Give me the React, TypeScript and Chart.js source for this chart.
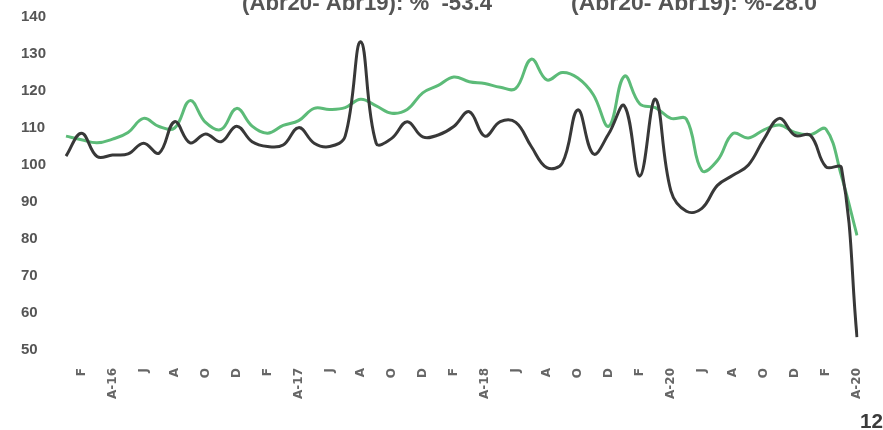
import React, { useEffect, useRef } from 'react';
import { Chart, registerables } from 'chart.js';

Chart.register(...registerables);

// Months Jan 2016 .. Apr 2020
const categories = [
  'E-16', 'F-16', 'M-16', 'A-16', 'M-16', 'J-16', 'J-16', 'A-16', 'S-16', 'O-16', 'N-16', 'D-16',
  'E-17', 'F-17', 'M-17', 'A-17', 'M-17', 'J-17', 'J-17', 'A-17', 'S-17', 'O-17', 'N-17', 'D-17',
  'E-18', 'F-18', 'M-18', 'A-18', 'M-18', 'J-18', 'J-18', 'A-18', 'S-18', 'O-18', 'N-18', 'D-18',
  'E-19', 'F-19', 'M-19', 'A-19', 'M-19', 'J-19', 'J-19', 'A-19', 'S-19', 'O-19', 'N-19', 'D-19',
  'E-20', 'F-20', 'M-20', 'A-20',
];

const tickLabels = [
  '', 'F', '', 'A-16', '', 'J', '', 'A', '', 'O', '', 'D',
  '', 'F', '', 'A-17', '', 'J', '', 'A', '', 'O', '', 'D',
  '', 'F', '', 'A-18', '', 'J', '', 'A', '', 'O', '', 'D',
  '', 'F', '', 'A-20', '', 'J', '', 'A', '', 'O', '', 'D',
  '', 'F', '', 'A-20',
];

const seriesDark = [
  102.4, 108.6, 102.3, 102.7, 103, 105.9, 103.2, 111.7, 106, 108.4, 106.3, 110.5,
  106.3, 105, 105.4, 110.1, 105.9, 105, 107.8, 133.3, 105.9, 107.2, 111.7, 107.6,
  108.1, 110.4, 114.4, 107.8, 111.7, 111.5, 105, 99.3, 100.5, 114.9, 103, 108.5,
  116, 97, 117.8, 93, 87.5, 88.3, 94.5, 97.2, 100, 107, 112.6, 108,
  108, 99.5, 99.2, 53.5,
];

const seriesGreen = [
  107.8, 106.8, 106, 107, 108.8, 112.6, 110.4, 110, 117.4, 111.5, 109.6, 115.3,
  110.5, 108.6, 110.7, 112, 115.3, 115, 115.5, 117.8, 116, 114, 115, 119.5,
  121.5, 123.8, 122.5, 122, 121, 120.7, 128.6, 123, 125, 123.5, 119, 110.5,
  124, 116.5, 115.5, 112.6, 112.4, 98.5, 101.2, 108.5, 107.3, 109.5, 110.8, 108.8,
  108.2, 109.7, 97, 81,
];

const yMin = 50;
const yMax = 140;
const yStep = 10;

const headerLeft = '(Abr20- Abr19): %  -53.4';
const headerRight = '(Abr20- Abr19): %-28.0';
const pageNumber = '12';

const pageTextPlugin = {
  id: 'pageText',
  afterDraw(chart: any) {
    const ctx = chart.ctx as CanvasRenderingContext2D;
    const drawFit = (text: string, x: number, y: number, w: number, font: string, color: string) => {
      ctx.save();
      ctx.font = font;
      ctx.fillStyle = color;
      ctx.textAlign = 'left';
      ctx.textBaseline = 'alphabetic';
      const m = ctx.measureText(text).width;
      ctx.translate(x, y);
      ctx.scale(w / m, 1);
      ctx.fillText(text, 0, 0);
      ctx.restore();
    };
    drawFit(headerLeft, 242, 10, 250, 'bold 22px "Liberation Sans"', '#555555');
    drawFit(headerRight, 571, 10, 246, 'bold 22px "Liberation Sans"', '#555555');
    drawFit(pageNumber, 860, 428, 23, 'bold 20px "Liberation Sans"', '#3a3a3a');
  },
};

export default function App() {
  const canvasRef = useRef<HTMLCanvasElement | null>(null);

  useEffect(() => {
    if (!canvasRef.current) return;
    const chart = new Chart(canvasRef.current, {
      type: 'line',
      data: {
        labels: categories,
        datasets: [
          {
            label: 'Serie oscura',
            data: seriesDark,
            borderColor: '#383838',
            borderWidth: 3,
            pointRadius: 0,
            tension: 0.4,
            fill: false,
          },
          {
            label: 'Serie verde',
            data: seriesGreen,
            borderColor: '#5cbb78',
            borderWidth: 3,
            pointRadius: 0,
            tension: 0.4,
            fill: false,
          },
        ],
      },
      options: {
        responsive: false,
        animation: false,
        devicePixelRatio: 1,
        layout: { padding: { left: 21, right: 26, top: 17, bottom: 0 } },
        plugins: {
          legend: { display: false },
          tooltip: { enabled: false },
          title: { display: false },
        },
        scales: {
          x: {
            grid: { display: false, drawTicks: false },
            border: { display: false },
            ticks: {
              autoSkip: false,
              maxRotation: 90,
              minRotation: 90,
              padding: 18,
              color: '#666666',
              font: { family: '"DejaVu Sans"', size: 12, weight: 'bold' },
              callback: (_v: any, i: number) => tickLabels[i],
            },
            afterFit: (s: any) => {
              s.height = 80;
              s.paddingLeft = 0;
              s.paddingRight = 0;
            },
          },
          y: {
            min: yMin,
            max: yMax,
            grid: { display: false, drawTicks: false },
            border: { display: false },
            ticks: {
              stepSize: yStep,
              crossAlign: 'far',
              padding: 0,
              color: '#555555',
              font: { family: '"Liberation Sans"', size: 15, weight: 'bold' },
            },
            afterFit: (s: any) => {
              s.width = 45;
              s.paddingTop = 0;
              s.paddingBottom = 0;
            },
          },
        },
      },
      plugins: [pageTextPlugin],
    } as any);
    return () => chart.destroy();
  }, []);

  return (
    <div style={{ position: 'absolute', left: 0, top: 0, width: 883, height: 430, background: '#ffffff' }}>
      <canvas ref={canvasRef} width={883} height={430} />
    </div>
  );
}
